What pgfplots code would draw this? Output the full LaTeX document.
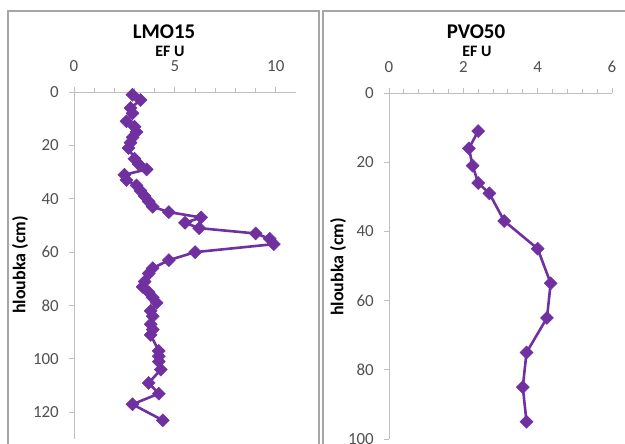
\documentclass[border=0pt]{standalone}
\usepackage{fontspec}
\setmainfont{Carlito}
\usepackage{pgfplots}
\pgfplotsset{compat=1.18}
\definecolor{exPurple}{HTML}{7030A0}
\definecolor{tickgray}{HTML}{505050}
\definecolor{axgray}{HTML}{BFBFBF}
\definecolor{framegray}{HTML}{A6A6A6}
\pgfplotsset{
  panel/.style={
    scale only axis, y dir=reverse, ymin=0,
    axis x line*=top, axis y line*=left,
    axis line style={axgray, line width=0.9bp, -},
    every tick/.style={axgray, line width=0.9bp},
    tick align=outside, major tick length=5bp, minor tick length=4bp,
    ytick distance=20,
    tick label style={font=\fontsize{17}{19}\selectfont, text=tickgray, inner sep=1bp},
    /pgf/number format/assume math mode=true,
    xticklabel style={yshift=14bp},
    yticklabel style={xshift=-9bp},
    clip=false,
  },
  ser/.style={exPurple, line width=2.6bp, mark=square*, mark size=4.6bp,
    mark options={rotate=45, solid, fill=exPurple, draw=exPurple, line width=0.5bp}},
}
\begin{document}
\begin{tikzpicture}
\useasboundingbox (0bp,0bp) rectangle (625bp,444bp);
\draw[framegray, line width=1.2bp] (8bp,-5bp) -- (8bp,433bp) -- (319bp,433bp) -- (319bp,-5bp);
\draw[framegray, line width=1.2bp] (323bp,-5bp) -- (323bp,433bp) -- (630bp,433bp);
% left panel
\begin{axis}[panel, at={(74bp,5bp)}, anchor=south west, width=222bp, height=347bp,
  xmin=0, xmax=11, ymax=130, xtick={0,5,10}, minor x tick num=4]
\addplot[ser] coordinates {
(2.9,1) (3.3,3) (2.8,6) (2.9,8) (2.6,11) (3.0,13) (3.1,15) (2.9,17) (2.8,19) (2.7,21)
(3.0,25) (3.2,27) (3.6,29) (2.5,31) (2.6,33) (3.1,35) (3.3,37) (3.5,39) (3.7,41) (3.9,43)
(4.7,45) (6.3,47) (5.5,49) (6.2,51) (9.0,53) (9.7,55) (9.9,57) (6.0,60) (4.7,63) (3.9,66)
(3.7,68) (3.5,71) (3.4,73) (3.7,75) (3.9,77) (4.1,79) (3.8,82) (3.9,84) (3.8,87) (3.9,89)
(3.8,91) (4.2,97) (4.2,99) (4.2,101) (4.3,104) (3.7,109) (4.2,113) (2.9,117) (4.4,123)
};
\end{axis}
% right panel
\begin{axis}[panel, at={(389bp,5bp)}, anchor=south west, width=223bp, height=346bp,
  xmin=0, xmax=6, ymax=100, xtick={0,2,4,6}, minor x tick num=4]
\addplot[ser] coordinates {
(2.4,11) (2.15,16) (2.25,21) (2.4,26) (2.7,29) (3.1,37) (4.0,45) (4.35,55) (4.25,65)
(3.7,75) (3.6,85) (3.7,95)
};
\end{axis}
\node[inner sep=0pt, font=\fontsize{21}{24}\bfseries] at (164bp,412bp) {LMO15};
\node[inner sep=0pt, font=\fontsize{16}{18}\bfseries] at (170bp,393bp) {EF U};
\node[inner sep=0pt, font=\fontsize{21}{24}\bfseries] at (476bp,412bp) {PVO50};
\node[inner sep=0pt, font=\fontsize{16}{18}\bfseries] at (477bp,393bp) {EF U};
\node[inner sep=0pt, font=\fontsize{18}{20}\bfseries, rotate=90] at (20bp,179bp) {hloubka (cm)};
\node[inner sep=0pt, font=\fontsize{18}{20}\bfseries, rotate=90] at (338bp,177bp) {hloubka (cm)};
\end{tikzpicture}
\end{document}
